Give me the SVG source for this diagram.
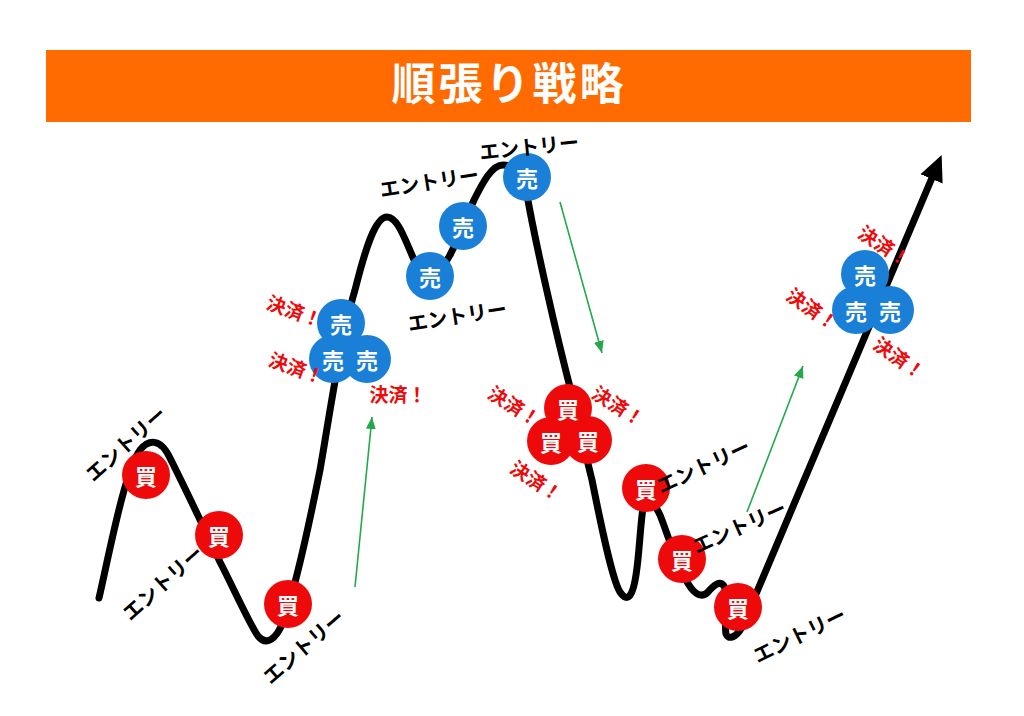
<svg xmlns="http://www.w3.org/2000/svg" width="1024" height="716" viewBox="0 0 1024 716">
<style>
.bg{fill:#ffffff}
.bar{fill:#FF6B00}
.title{font-family:"Noto Sans CJK JP","Noto Sans",sans-serif;font-weight:700;font-size:44px;fill:#ffffff;letter-spacing:3px}
.curve{fill:none;stroke:#000;stroke-width:7;stroke-linecap:round;stroke-linejoin:round}
.green{fill:none;stroke:#23A84B;stroke-width:1.6}
.buy circle{fill:#EE0A0A}
.sell circle{fill:#1A7FD6}
.nt{font-family:"Noto Sans CJK JP",sans-serif;font-weight:700;font-size:22px;fill:#fff;text-anchor:middle;dominant-baseline:central}
.entry{font-family:"Noto Sans CJK JP",sans-serif;font-weight:700;font-size:20px;fill:#000;text-anchor:middle;dominant-baseline:central}
.settle{font-family:"Noto Sans CJK JP",sans-serif;font-weight:700;font-size:19px;fill:#EE0A0A;text-anchor:middle;dominant-baseline:central}
</style>
<defs>
<marker id="blackHead" markerUnits="userSpaceOnUse" markerWidth="26" markerHeight="24" viewBox="0 0 26 24" refX="14" refY="12" orient="auto">
<path d="M0,0 L26,12 L0,24 z" fill="#000"/>
</marker>
<marker id="greenHead" markerUnits="userSpaceOnUse" markerWidth="12" markerHeight="10" viewBox="0 0 12 10" refX="12" refY="5" orient="auto">
<path d="M0,0 L12,5 L0,10 z" fill="#23A84B"/>
</marker>
</defs>
<rect class="bg" x="0" y="0" width="1024" height="716"/>
<g id="title">
<rect class="bar" x="46" y="50" width="925" height="72"/>
<text class="title" x="509" y="100" text-anchor="middle">順張り戦略</text>
</g>
<g id="connectors">
<path class="curve" marker-end="url(#blackHead)" d="M99,598 C110,550 125,470 140,450 C148,440 160,437 170,458 C185,488 205,530 220,562 C232,585 250,625 258,636 C266,646 276,640 283,622 C295,590 310,520 320,470 C328,425 340,340 355,290 C365,250 375,217 387,217 C398,217 405,240 415,262 C425,280 440,275 450,255 C458,240 465,220 474,200 C483,182 492,165 503,165 C518,165 524,180 527,195 C535,240 555,330 572,395 C580,430 587,460 592,480 C600,520 612,580 620,592 C628,604 633,595 636,575 C640,550 640,520 645,495 C650,495 655,505 660,515 C668,535 675,560 685,578 C692,592 700,600 708,592 C714,585 720,580 724,586 C728,592 724,625 726,634 C728,640 736,638 742,627 L937,166"/>
<line class="green" x1="355" y1="587" x2="372" y2="417" marker-end="url(#greenHead)"/>
<line class="green" x1="560" y1="202" x2="602" y2="353" marker-end="url(#greenHead)"/>
<line class="green" x1="747" y1="512" x2="803" y2="366" marker-end="url(#greenHead)"/>
</g>
<g id="buy1" class="buy"><circle cx="146" cy="475" r="24"/><text class="nt" x="146" y="475">買</text></g>
<g id="buy2" class="buy"><circle cx="219" cy="535" r="24"/><text class="nt" x="219" y="535">買</text></g>
<g id="buy3" class="buy"><circle cx="288" cy="604" r="24"/><text class="nt" x="288" y="604">買</text></g>
<g id="sellCluster1" class="sell">
<circle cx="341" cy="323" r="24"/><circle cx="333" cy="359" r="24"/><circle cx="367" cy="359" r="24"/>
<text class="nt" x="341" y="323">売</text><text class="nt" x="333" y="359">売</text><text class="nt" x="367" y="359">売</text>
</g>
<g id="sell1" class="sell"><circle cx="430" cy="276" r="24"/><text class="nt" x="430" y="276">売</text></g>
<g id="sell2" class="sell"><circle cx="463" cy="226" r="24"/><text class="nt" x="463" y="226">売</text></g>
<g id="sell3" class="sell"><circle cx="527" cy="177" r="24"/><text class="nt" x="527" y="177">売</text></g>
<g id="buyCluster" class="buy">
<circle cx="568" cy="408" r="24"/><circle cx="551" cy="441" r="24"/><circle cx="588" cy="440" r="24"/>
<text class="nt" x="568" y="408">買</text><text class="nt" x="551" y="441">買</text><text class="nt" x="588" y="440">買</text>
</g>
<g id="buy4" class="buy"><circle cx="646" cy="488" r="24"/><text class="nt" x="646" y="488">買</text></g>
<g id="buy5" class="buy"><circle cx="682" cy="559" r="24"/><text class="nt" x="682" y="559">買</text></g>
<g id="buy6" class="buy"><circle cx="738" cy="607" r="24"/><text class="nt" x="738" y="607">買</text></g>
<g id="sellCluster2" class="sell">
<circle cx="865" cy="274" r="24"/><circle cx="856" cy="310" r="24"/><circle cx="890" cy="310" r="24"/>
<text class="nt" x="865" y="274">売</text><text class="nt" x="856" y="310">売</text><text class="nt" x="890" y="310">売</text>
</g>
<g id="entryLabels">
<text class="entry" transform="translate(125,443) rotate(-42)">エントリー</text>
<text class="entry" transform="translate(162,582) rotate(-42)">エントリー</text>
<text class="entry" transform="translate(303,646) rotate(-41)">エントリー</text>
<text class="entry" transform="translate(429,181) rotate(-9)">エントリー</text>
<text class="entry" transform="translate(529,146) rotate(-6)">エントリー</text>
<text class="entry" transform="translate(457,315) rotate(-9)">エントリー</text>
<text class="entry" transform="translate(703,465) rotate(-25)">エントリー</text>
<text class="entry" transform="translate(739,526) rotate(-24)">エントリー</text>
<text class="entry" transform="translate(799,634) rotate(-26)">エントリー</text>
</g>
<g id="settleLabels">
<text class="settle" transform="translate(295,310) rotate(20)">決済！</text>
<text class="settle" transform="translate(297,367) rotate(20)">決済！</text>
<text class="settle" transform="translate(398,393)">決済！</text>
<text class="settle" transform="translate(515,405) rotate(32)">決済！</text>
<text class="settle" transform="translate(619,405) rotate(32)">決済！</text>
<text class="settle" transform="translate(537,480) rotate(33)">決済！</text>
<text class="settle" transform="translate(885,245) rotate(33)">決済！</text>
<text class="settle" transform="translate(813,308) rotate(35)">決済！</text>
<text class="settle" transform="translate(900,357) rotate(35)">決済！</text>
</g>
</svg>
